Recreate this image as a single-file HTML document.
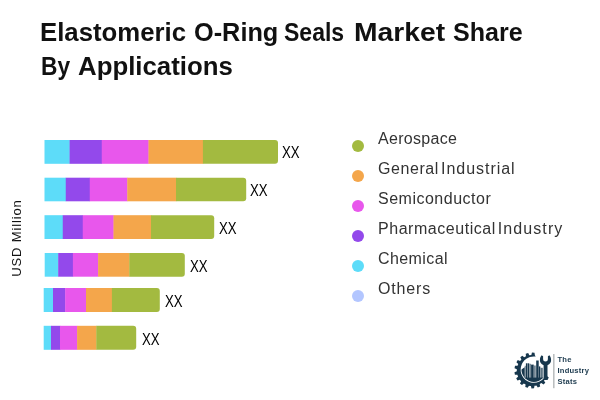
<!DOCTYPE html>
<html lang="en">
<head>
<meta charset="utf-8">
<title>Elastomeric O-Ring Seals Market Share By Applications</title>
<style>
  html, body { margin: 0; padding: 0; }
  body { width: 600px; height: 400px; background: #ffffff; position: relative; overflow: hidden;
         font-family: "Liberation Sans", sans-serif; color: #1a1a1a; }
  .title { position: absolute; left: 40px; top: 14.5px; margin: 0; font-size: 25px; line-height: 34px;
           font-weight: bold; color: #111111; white-space: nowrap; }
  .title span { position: absolute; display: block; transform-origin: 0 50%; }
  .ylabel { position: absolute; left: 16.6px; top: 237.6px; width: 0; height: 0; }
  .ylabel span { position: absolute; left: -50px; top: -8px; width: 100px; height: 16px; line-height: 16px;
                 text-align: center; font-size: 13px; letter-spacing: 0.85px; color: #111;
                 transform: rotate(-90deg); transform-origin: 50% 50%; white-space: nowrap; }
  .chart { position: absolute; left: 0; top: 0; }
  .val { position: absolute; font-size: 15px; line-height: 16px; color: #000; transform: scale(0.88,1.08); transform-origin: 0 50%; }
  .brand { position: absolute; left: 557.5px; top: 353.8px; font-size: 7.6px; line-height: 11.3px; font-weight: bold; color: #1c3a4e; letter-spacing: 0.2px; white-space: nowrap; }
  .brand span { display: block; }
  .leg { position: absolute; left: 352px; height: 30px; white-space: nowrap; }
  .leg i { font-style: normal; }
  .leg b { position: absolute; left: 0; top: 9px; width: 12px; height: 12px; border-radius: 50%; }
  .leg span { position: absolute; left: 26px; top: -2px; font-size: 16px; line-height: 20px; color: #333; }
</style>
</head>
<body>
  <h1 class="title"><span style="left:0px;top:0px;transform:scaleX(1.03)">Elastomeric</span> <span style="left:153.5px;top:0px;transform:scaleX(1.012)">O-Ring</span> <span style="left:244px;top:0px;transform:scaleX(0.921)">Seals</span> <span style="left:313.8px;top:0px;transform:scaleX(1.13)">Market</span> <span style="left:413px;top:0px;transform:scaleX(1.003)">Share</span> <span style="left:0.6px;top:34px;transform:scaleX(0.91)">By</span> <span style="left:37.5px;top:34px;transform:scaleX(1.032)">Applications</span> </h1>

  <div class="ylabel"><span>USD Million</span></div>

  <svg class="chart" width="600" height="400" viewBox="0 0 600 400">
    <rect x="44.5" y="140.0" width="25.4" height="23.8" fill="#5ddcf9"/>
    <rect x="69.6" y="140.0" width="32.45" height="23.8" fill="#9349eb"/>
    <rect x="101.75" y="140.0" width="47.05" height="23.8" fill="#e857ec"/>
    <rect x="148.5" y="140.0" width="54.7" height="23.8" fill="#f4a64b"/>
    <path d="M202.9 140.0 H275.0 Q278.0 140.0 278.0 143.0 V160.8 Q278.0 163.8 275.0 163.8 H202.9 Z" fill="#a3ba40"/>
    <rect x="44.5" y="177.7" width="21.55" height="23.6" fill="#5ddcf9"/>
    <rect x="65.75" y="177.7" width="24.3" height="23.6" fill="#9349eb"/>
    <rect x="89.75" y="177.7" width="37.8" height="23.6" fill="#e857ec"/>
    <rect x="127.25" y="177.7" width="49.05" height="23.6" fill="#f4a64b"/>
    <path d="M176.0 177.7 H243.2 Q246.2 177.7 246.2 180.7 V198.3 Q246.2 201.3 243.2 201.3 H176.0 Z" fill="#a3ba40"/>
    <rect x="44.5" y="215.2" width="18.55" height="23.8" fill="#5ddcf9"/>
    <rect x="62.75" y="215.2" width="20.3" height="23.8" fill="#9349eb"/>
    <rect x="82.75" y="215.2" width="31.05" height="23.8" fill="#e857ec"/>
    <rect x="113.5" y="215.2" width="37.8" height="23.8" fill="#f4a64b"/>
    <path d="M151.0 215.2 H211.2 Q214.2 215.2 214.2 218.2 V236.0 Q214.2 239.0 211.2 239.0 H151.0 Z" fill="#a3ba40"/>
    <rect x="44.7" y="253.0" width="13.8" height="23.7" fill="#5ddcf9"/>
    <rect x="58.2" y="253.0" width="15.0" height="23.7" fill="#9349eb"/>
    <rect x="72.9" y="253.0" width="25.5" height="23.7" fill="#e857ec"/>
    <rect x="98.1" y="253.0" width="31.5" height="23.7" fill="#f4a64b"/>
    <path d="M129.3 253.0 H181.8 Q184.8 253.0 184.8 256.0 V273.7 Q184.8 276.7 181.8 276.7 H129.3 Z" fill="#a3ba40"/>
    <rect x="43.7" y="288.0" width="9.6" height="24.0" fill="#5ddcf9"/>
    <rect x="53.0" y="288.0" width="12.5" height="24.0" fill="#9349eb"/>
    <rect x="65.2" y="288.0" width="21.1" height="24.0" fill="#e857ec"/>
    <rect x="86.0" y="288.0" width="26.2" height="24.0" fill="#f4a64b"/>
    <path d="M111.9 288.0 H156.8 Q159.8 288.0 159.8 291.0 V309.0 Q159.8 312.0 156.8 312.0 H111.9 Z" fill="#a3ba40"/>
    <rect x="43.7" y="325.8" width="7.6" height="24.0" fill="#5ddcf9"/>
    <rect x="51.0" y="325.8" width="9.3" height="24.0" fill="#9349eb"/>
    <rect x="60.0" y="325.8" width="17.4" height="24.0" fill="#e857ec"/>
    <rect x="77.1" y="325.8" width="19.5" height="24.0" fill="#f4a64b"/>
    <path d="M96.3 325.8 H133.2 Q136.2 325.8 136.2 328.8 V346.8 Q136.2 349.8 133.2 349.8 H96.3 Z" fill="#a3ba40"/>
  </svg>

  <div class="val" style="left:281.7px;top:145px">XX</div>
  <div class="val" style="left:249.8px;top:183.2px">XX</div>
  <div class="val" style="left:218.7px;top:221px">XX</div>
  <div class="val" style="left:189.8px;top:259px">XX</div>
  <div class="val" style="left:164.7px;top:294px">XX</div>
  <div class="val" style="left:142.0px;top:332px">XX</div>

  <div class="leg" style="top:131px"><b style="background:#a3ba40"></b><span style="letter-spacing:0.3px">Aerospace</span></div>
  <div class="leg" style="top:161px"><b style="background:#f4a64b"></b><span style="letter-spacing:0.58px">General <i style="letter-spacing:0.97px;margin-left:-3px">Industrial</i></span></div>
  <div class="leg" style="top:191px"><b style="background:#e857ec"></b><span style="letter-spacing:0.5px">Semiconductor</span></div>
  <div class="leg" style="top:221px"><b style="background:#9349eb"></b><span style="letter-spacing:0.54px">Pharmaceutical <i style="letter-spacing:1.08px;margin-left:-3px">Industry</i></span></div>
  <div class="leg" style="top:251px"><b style="background:#5ddcf9"></b><span style="letter-spacing:0.4px">Chemical</span></div>
  <div class="leg" style="top:281px"><b style="background:#b3c6ff"></b><span style="letter-spacing:0.83px">Others</span></div>
  <svg class="chart" width="600" height="400" viewBox="0 0 600 400">
    <defs><clipPath id="disc"><circle cx="533.86" cy="369.60" r="12.4"/></clipPath></defs>
    <g fill="#17374d">
      <path d="M534.87 355.22 L534.51 352.74 L531.96 352.60 L531.34 355.03 A15.50 15.50 0 0 0 529.36 355.28 L528.15 353.09 L525.71 353.86 L525.98 356.35 A15.50 15.50 0 0 0 524.22 357.28 L522.32 355.64 L520.30 357.22 L521.42 359.46 A15.50 15.50 0 0 0 520.10 360.94 L517.75 360.08 L516.41 362.26 L518.25 363.96 A15.50 15.50 0 0 0 517.52 365.82 L515.02 365.84 L514.53 368.35 L516.85 369.30 A15.50 15.50 0 0 0 516.82 371.29 L514.48 372.18 L514.90 374.71 L517.40 374.79 A15.50 15.50 0 0 0 518.08 376.67 L516.20 378.32 L517.48 380.54 L519.85 379.73 A15.50 15.50 0 0 0 521.14 381.26 L519.96 383.46 L521.93 385.09 L523.87 383.51 A15.50 15.50 0 0 0 525.61 384.48 L525.28 386.96 L527.70 387.80 L528.96 385.64 A15.50 15.50 0 0 0 530.93 385.94 L531.49 388.38 L534.05 388.31 L534.47 385.85 A15.50 15.50 0 0 0 536.43 385.44 L537.80 387.53 L540.17 386.57 L539.71 384.11 A15.50 15.50 0 0 0 541.40 383.05 L543.42 384.53 L545.31 382.80 L544.01 380.66 A15.50 15.50 0 0 0 545.22 379.07 L547.63 379.75 L548.79 377.47 L546.82 375.91 L546.10 374.54 A13.20 13.20 0 1 1 535.70 356.53 Z"/>
      <g clip-path="url(#disc)">
        <rect x="518" y="377.6" width="30" height="8"/>
        <path d="M519 371.2 L524.7 367.2 V378 H519 Z"/>
        <rect x="524.7" y="365.8" width="1.1" height="12.2" opacity="0.6"/>
        <rect x="525.9" y="363.3" width="1.6" height="14.7"/>
        <rect x="527.8" y="363.3" width="1.4" height="14.7"/>
        <rect x="529.4" y="363.8" width="1.6" height="14.2" opacity="0.6"/>
        <rect x="531.1" y="364.6" width="2.6" height="13.4"/>
        <rect x="534.0" y="365.5" width="1.8" height="12.5" opacity="0.6"/>
        <rect x="536.2" y="360.5" width="2.5" height="17.5"/>
        <rect x="539.0" y="366.4" width="1.3" height="11.6"/>
        <rect x="540.6" y="367.8" width="2.2" height="10.2" opacity="0.7"/>
      </g>
      <path d="M543.6 380 V365.2 C541 364 539.9 362.3 539.9 360.2 C539.9 358 540.6 356.4 541.6 355.3 L543.1 356.2 V359.2 A2.4 2.4 0 0 0 547.9 359.2 V356.2 L549.4 355.3 C550.4 356.4 551.1 358 551.1 360.2 C551.1 362.3 550 364 547.5 365.2 V380 Z"/>
    </g>
    <rect x="553.3" y="354" width="1.1" height="34.2" fill="#9ea4a6"/>
  </svg>
  <div class="brand"><span>The</span><span>Industry</span><span>Stats</span></div>
</body>
</html>
